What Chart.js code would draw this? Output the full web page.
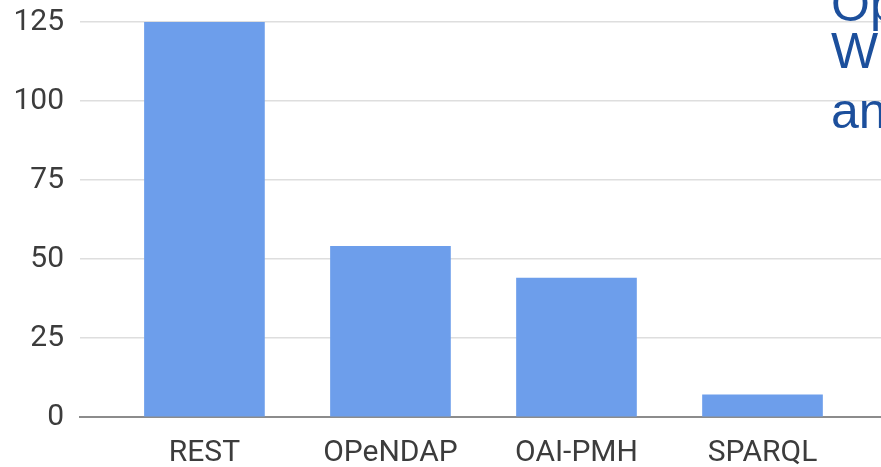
<!DOCTYPE html>
<html>
<head>
<meta charset="utf-8">
<script src="https://cdn.jsdelivr.net/npm/chart.js@4.4.1/dist/chart.umd.min.js"></script>
<style>
  html, body { margin: 0; padding: 0; background: #fff; overflow: hidden; }
  #wrap { position: relative; width: 881px; height: 467px; overflow: hidden; }
  #apiChart { position: absolute; left: 0; top: 0; }
  .slideText {
    position: absolute; left: 831px; margin: 0;
    font-family: "Liberation Sans", Arial, sans-serif;
    font-size: 50px; line-height: 1; color: #1c4f9c; white-space: nowrap;
  }
</style>
</head>
<body>
<div id="wrap">
  <canvas id="apiChart" width="881" height="467"></canvas>
  <p class="slideText" style="top:-21px">Op</p>
  <p class="slideText" style="top:26px">Wi</p>
  <p class="slideText" style="top:86px">an</p>
</div>
<script>
// values
const categories = ['REST', 'OPeNDAP', 'OAI-PMH', 'SPARQL'];
const counts = [125, 54, 44, 7];
const yTicks = [0, 25, 50, 75, 100, 125];

function drawChart(){
    let points = categories.map(function(c, i){
        return { x: i, y: counts[i] };
    });

    let ctx = document.getElementById('apiChart').getContext('2d');
    new Chart(ctx, {
        type: 'bar',
        data: {
            datasets: [{
                data: points,
                backgroundColor: '#6d9eeb',
                borderWidth: 0,
                barThickness: 120
            }]
        },
        options: {
            responsive: false,
            animation: false,
            layout: {
                padding: { top: 22, left: 0, right: 0, bottom: 0 }
            },
            plugins: {
                legend: { display: false },
                tooltip: { enabled: false }
            },
            scales: {
                x: {
                    type: 'linear',
                    offset: false,
                    min: -0.669,
                    max: 3.637,
                    afterBuildTicks: function(axis){
                        axis.ticks = categories.map(function(c, i){ return { value: i }; });
                    },
                    afterFit: function(axis){
                        axis.height = 50;
                        axis.paddingLeft = 0;
                        axis.paddingRight = 0;
                    },
                    grid: { display: false, drawTicks: false, offset: false },
                    border: { display: true, color: '#8c8c8c', width: 2 },
                    ticks: {
                        autoSkip: false,
                        maxRotation: 0,
                        padding: 21,
                        color: '#3c3c3c',
                        font: { family: 'Roboto', size: 30, lineHeight: 1 },
                        callback: function(v){ return categories[v]; }
                    }
                },
                y: {
                    min: 0,
                    max: 125,
                    afterBuildTicks: function(axis){
                        axis.ticks = yTicks.map(function(v){ return { value: v }; });
                    },
                    afterFit: function(axis){
                        axis.width = 80;
                        axis.paddingTop = 0;
                        axis.paddingBottom = 0;
                    },
                    grid: { color: '#dedede', lineWidth: 1.5, drawTicks: false },
                    border: { display: false },
                    ticks: {
                        padding: 16,
                        color: '#3c3c3c',
                        font: { family: 'Roboto', size: 30, lineHeight: 1 }
                    }
                }
            }
        }
    });
}

document.fonts.load('30px Roboto').then(drawChart, drawChart);
</script>
</body>
</html>
